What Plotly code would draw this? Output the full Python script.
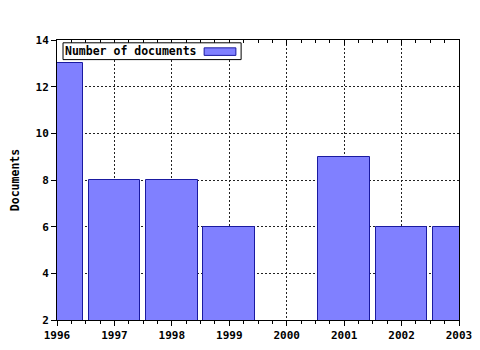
import plotly.graph_objects as go

years = [1996, 1997, 1998, 1999, 2000, 2001, 2002, 2003]
documents = [13, 8, 8, 6, 0, 9, 6, 6]
series_name = "Number of documents"
y_title = "Documents"

FONT = dict(family="DejaVu Sans Mono", size=11, color="black", weight="bold")
FONT_L = dict(family="DejaVu Sans Mono", size=11.5, color="black", weight="bold")
GRID = dict(showgrid=True, gridcolor="#222222", griddash="2px,2px", gridwidth=1)

fig = go.Figure()
fig.add_trace(go.Bar(
    x=years, y=documents, width=0.9, name=series_name,
    marker=dict(color="#8080ff", line=dict(color="#1a1aa0", width=1)),
    showlegend=False,
))
fig.add_trace(go.Scatter(x=years, y=documents, xaxis="x2", mode="none",
                         showlegend=False, hoverinfo="skip"))

fig.update_layout(
    width=480, height=350,
    margin=dict(l=57, r=21, t=40, b=30, autoexpand=False),
    paper_bgcolor="white", plot_bgcolor="white",
    font=FONT,
    bargap=0,
    xaxis=dict(
        range=[1996, 2003], dtick=1, tick0=1996, automargin=False,
        showline=True, linecolor="black", linewidth=1, mirror=True,
        ticks="outside", ticklen=5, tickcolor="black",
        minor=dict(dtick=0.25, ticks="outside", ticklen=3, tickcolor="black", showgrid=False),
        tickfont=FONT, zeroline=False, **GRID,
    ),
    xaxis2=dict(
        range=[1996, 2003], dtick=1, tick0=1996, overlaying="x", side="top",
        showgrid=False, showticklabels=False, ticks="inside", ticklen=5, tickcolor="black",
        minor=dict(dtick=0.25, ticks="inside", ticklen=3, tickcolor="black"),
        showline=False, zeroline=False, automargin=False,
    ),
    yaxis=dict(
        range=[2, 14], dtick=2, automargin=False,
        showline=True, linecolor="black", linewidth=1, mirror=True,
        ticks="outside", ticklen=5, tickcolor="black",
        tickfont=FONT, zeroline=False, **GRID,
        title=dict(text=y_title, font=FONT_L, standoff=13),
    ),
)

# legend box (text then swatch), top-left inside plot
fig.add_shape(type="rect", xref="paper", yref="paper",
              x0=0.015, x1=0.458, y0=0.93, y1=0.99,
              line=dict(color="black", width=1), fillcolor="white", layer="above")
fig.add_annotation(xref="paper", yref="paper", x=0.0155, y=0.962, xanchor="left",
                   yanchor="middle", text=series_name, showarrow=False, font=FONT_L)
fig.add_shape(type="rect", xref="paper", yref="paper",
              x0=0.366, x1=0.445, y0=0.945, y1=0.972,
              line=dict(color="#1a1aa0", width=1), fillcolor="#8080ff", layer="above")

fig.write_html("out.html")
